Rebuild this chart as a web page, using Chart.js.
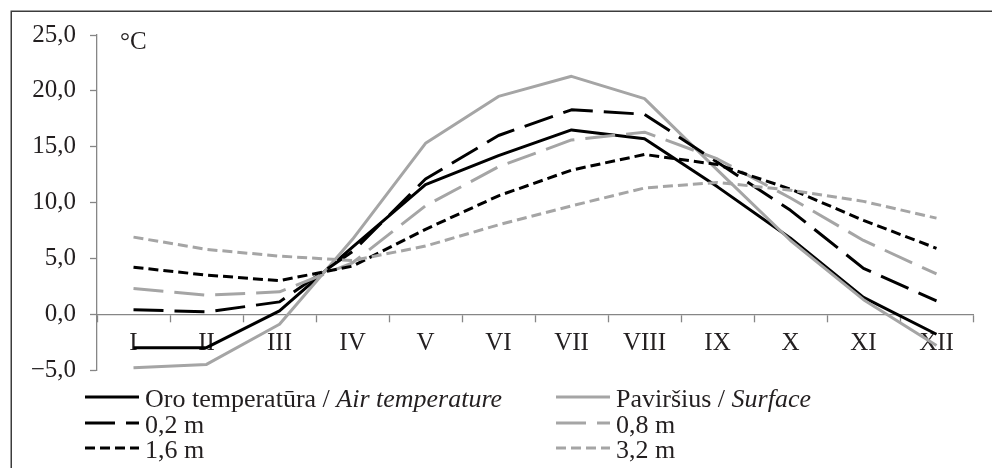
<!DOCTYPE html>
<html>
<head>
<meta charset="utf-8">
<script src="https://cdn.jsdelivr.net/npm/chart.js@4.4.1/dist/chart.umd.min.js"></script>
<style>
  html, body { margin: 0; padding: 0; background: #fff; }
  #wrap { width: 992px; height: 468px; }
</style>
</head>
<body>
<div id="wrap"><canvas id="soilTemp" width="992" height="468"></canvas></div>
<script>
// monthly mean temperatures, °C
const months = ["I", "II", "III", "IV", "V", "VI", "VII", "VIII", "IX", "X", "XI", "XII"];
const airTemp = [-3.0, -3.0, 0.3, 6.0, 11.6, 14.2, 16.5, 15.7, 11.4, 6.8, 1.5, -1.8];
const surface = [-4.8, -4.5, -0.9, 6.7, 15.3, 19.5, 21.3, 19.3, 12.9, 6.6, 1.3, -2.8];
const depth02 = [0.4, 0.2, 1.1, 5.6, 12.1, 16.0, 18.3, 17.9, 13.6, 9.3, 4.1, 1.2];
const depth08 = [2.3, 1.7, 2.0, 4.6, 9.7, 13.2, 15.6, 16.3, 13.9, 10.4, 6.6, 3.6];
const depth16 = [4.2, 3.5, 3.0, 4.3, 7.6, 10.6, 12.9, 14.3, 13.4, 11.2, 8.4, 5.9];
const depth32 = [6.9, 5.8, 5.2, 4.8, 6.1, 8.0, 9.7, 11.3, 11.8, 11.1, 10.1, 8.6];

const legendMain = ["Oro temperatūra / ", "Paviršius / ", "0,2 m", "0,8 m", "1,6 m", "3,2 m"];
const legendItalic = ["Air temperature", "Surface", "", "", "", ""];

const BLACK = "#000000";
const GREY = "#a5a5a5";
const TEXT = "#231f20";
const AXIS = "#868686";
const FONT = "'Liberation Serif', 'Times New Roman', serif";

const LONG_DASH = [30, 11];
const SHORT_DASH = [10, 5];

function fmt(v) {
  const s = Math.abs(v).toFixed(1).replace(".", ",");
  return v < 0 ? "\u2212" + s : s;
}

// frame, unit label and the two-column legend (labels mix regular and italic text)
const extras = {
  id: "extras",
  beforeDraw(chart) {
    const ctx = chart.ctx;
    ctx.save();
    ctx.strokeStyle = "#3c3c3c";
    ctx.lineWidth = 1.5;
    ctx.strokeRect(11.25, 11.25, 1100, 600);
    ctx.restore();
  },
  afterDraw(chart) {
    const ctx = chart.ctx;
    const colX = [85, 556];
    const rowY = [397, 423, 448];
    ctx.save();
    ctx.fillStyle = TEXT;
    ctx.textBaseline = "middle";
    ctx.font = "25px " + FONT;
    ctx.fillText("°C", 120, 42);

    chart.data.datasets.forEach((ds, i) => {
      const x = colX[i % 2];
      const y = rowY[Math.floor(i / 2)];
      ctx.save();
      ctx.beginPath();
      ctx.setLineDash(ds.borderDash || []);
      ctx.strokeStyle = ds.borderColor;
      ctx.lineWidth = ds.borderWidth;
      ctx.moveTo(x, y);
      ctx.lineTo(x + 54, y);
      ctx.stroke();
      ctx.restore();

      let tx = x + 60;
      ctx.font = "26px " + FONT;
      ctx.fillText(legendMain[i], tx, y + 3);
      tx += ctx.measureText(legendMain[i]).width;
      if (legendItalic[i]) {
        ctx.font = "italic 26px " + FONT;
        ctx.fillText(legendItalic[i], tx, y + 3);
      }
    });
    ctx.restore();
  }
};

function series(label, data, color, dash) {
  return {
    label: label,
    data: data,
    borderColor: color,
    backgroundColor: color,
    borderWidth: 3,
    borderDash: dash,
    borderJoinStyle: "round",
    pointRadius: 0,
    pointHoverRadius: 0,
    tension: 0,
    fill: false
  };
}

const datasets = [
  series("Oro temperatūra / Air temperature", airTemp, BLACK, []),
  series("Paviršius / Surface", surface, GREY, []),
  series("0,2 m", depth02, BLACK, LONG_DASH),
  series("0,8 m", depth08, GREY, LONG_DASH),
  series("1,6 m", depth16, BLACK, SHORT_DASH),
  series("3,2 m", depth32, GREY, SHORT_DASH)
];
// later series drawn on top, like the original
datasets.forEach((d, i) => { d.order = datasets.length - i; });

new Chart(document.getElementById("soilTemp"), {
  type: "line",
  data: { labels: months, datasets: datasets },
  plugins: [extras],
  options: {
    responsive: false,
    animation: false,
    events: [],
    layout: { padding: { left: 0, top: 35, right: 19, bottom: 98 } },
    plugins: {
      legend: { display: false },
      tooltip: { enabled: false }
    },
    scales: {
      x: {
        position: { y: 0 },
        offset: true,
        afterFit: (s) => { s.height = 0; },
        grid: {
          offset: true,
          drawOnChartArea: false,
          drawTicks: true,
          tickLength: 7,
          tickColor: AXIS,
          tickWidth: 1.3
        },
        border: { display: true, color: AXIS, width: 1.3 },
        ticks: {
          color: TEXT,
          font: { family: FONT, size: 25 },
          padding: 7,
          maxRotation: 0,
          autoSkip: false
        }
      },
      y: {
        min: -5,
        max: 25,
        afterFit: (s) => { s.width = 97; },
        grid: {
          drawOnChartArea: false,
          drawTicks: true,
          tickLength: 7,
          tickColor: AXIS,
          tickWidth: 1.3
        },
        border: { display: true, color: AXIS, width: 1.3 },
        ticks: {
          stepSize: 5,
          color: TEXT,
          font: { family: FONT, size: 25 },
          padding: 14,
          callback: (v) => fmt(v)
        }
      }
    }
  }
});
</script>
</body>
</html>
